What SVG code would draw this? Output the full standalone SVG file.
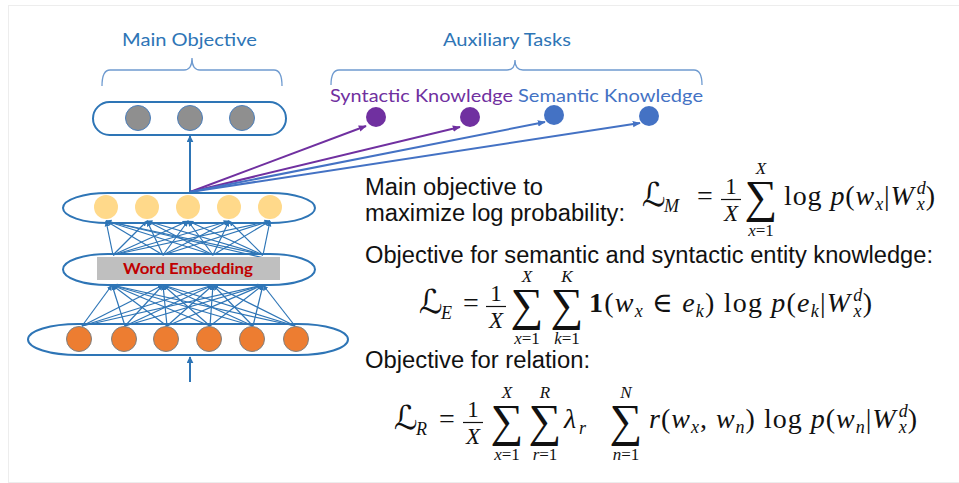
<svg xmlns="http://www.w3.org/2000/svg" width="959" height="483" viewBox="0 0 959 483">
<style>
.lbl{font-family:Lato,"Open Sans","Liberation Sans",sans-serif;font-size:18px}
.blue{fill:#2e75b6}
.txt{font-family:"Liberation Sans",Arial,sans-serif;font-size:23px;fill:#111}
.m{font-family:"Liberation Serif","DejaVu Serif",serif;font-size:28px;fill:#111}
.i{font-style:italic}
.s{font-size:18px}
.lim{font-family:"Liberation Serif","DejaVu Serif",serif;font-size:17px;fill:#111;text-anchor:middle}
.sum{font-family:"Liberation Serif","DejaVu Serif",serif;font-size:46px;fill:#111;text-anchor:middle}
.cal{font-family:"DejaVu Serif","DejaVu Sans",serif;font-size:33px;fill:#111}
.fr{font-family:"Liberation Serif",serif;font-size:23px;fill:#111;text-anchor:middle}
.cap{fill:none;stroke:#2e75b6;stroke-width:2}
.brace{fill:none;stroke:#6f9bd0;stroke-width:1.3}
.net line{stroke:#2e75b6;stroke-width:1.2}
</style>
<defs>
<marker id="ab" viewBox="0 0 10 10" refX="9" refY="5" markerWidth="5" markerHeight="5" orient="auto"><path d="M0,1 L10,5 L0,9 z" fill="#2e75b6"/></marker>
<marker id="ap" viewBox="0 0 10 10" refX="9" refY="5" markerWidth="4" markerHeight="4" orient="auto"><path d="M0,1 L10,5 L0,9 z" fill="#7030a0"/></marker>
<marker id="al" viewBox="0 0 10 10" refX="9" refY="5" markerWidth="4" markerHeight="4" orient="auto"><path d="M0,1 L10,5 L0,9 z" fill="#4472c4"/></marker>
<marker id="av" viewBox="0 0 10 10" refX="9" refY="5" markerWidth="3.5" markerHeight="3.5" orient="auto"><path d="M0,0 L10,5 L0,10 z" fill="#2e75b6"/></marker>
</defs>
<rect x="8.5" y="5.5" width="960" height="477" fill="none" stroke="#ededed"/>

<g id="labels">
<text class="lbl blue" x="122" y="46" textLength="135" lengthAdjust="spacingAndGlyphs">Main Objective</text>
<path class="brace" d="M102,86 Q102,70 110,70 L184,70 Q192,70 192,58 Q192,70 200,70 L274,70 Q282,70 282,86"/>
<text class="lbl blue" x="443" y="46" textLength="128" lengthAdjust="spacingAndGlyphs">Auxiliary Tasks</text>
<path class="brace" d="M331,85 Q331,70 339,70 L507,70 Q515,70 515,60 Q515,70 523,70 L694,70 Q702,70 702,85"/>
<text class="lbl" x="330" y="102" fill="#7030a0" font-size="19" textLength="183" lengthAdjust="spacingAndGlyphs">Syntactic Knowledge</text>
<text class="lbl" x="518" y="102" fill="#4472c4" font-size="19" textLength="185" lengthAdjust="spacingAndGlyphs">Semantic Knowledge</text>
</g>

<g id="connectors">
<g class="net">
<line x1="82" y1="326" x2="112" y2="285" marker-end="url(#ab)"/>
<line x1="82" y1="326" x2="163" y2="285" marker-end="url(#ab)"/>
<line x1="82" y1="326" x2="213" y2="285" marker-end="url(#ab)"/>
<line x1="82" y1="326" x2="263" y2="285" marker-end="url(#ab)"/>
<line x1="125" y1="326" x2="112" y2="285" marker-end="url(#ab)"/>
<line x1="125" y1="326" x2="163" y2="285" marker-end="url(#ab)"/>
<line x1="125" y1="326" x2="213" y2="285" marker-end="url(#ab)"/>
<line x1="125" y1="326" x2="263" y2="285" marker-end="url(#ab)"/>
<line x1="167" y1="326" x2="112" y2="285" marker-end="url(#ab)"/>
<line x1="167" y1="326" x2="163" y2="285" marker-end="url(#ab)"/>
<line x1="167" y1="326" x2="213" y2="285" marker-end="url(#ab)"/>
<line x1="167" y1="326" x2="263" y2="285" marker-end="url(#ab)"/>
<line x1="210" y1="326" x2="112" y2="285" marker-end="url(#ab)"/>
<line x1="210" y1="326" x2="163" y2="285" marker-end="url(#ab)"/>
<line x1="210" y1="326" x2="213" y2="285" marker-end="url(#ab)"/>
<line x1="210" y1="326" x2="263" y2="285" marker-end="url(#ab)"/>
<line x1="253" y1="326" x2="112" y2="285" marker-end="url(#ab)"/>
<line x1="253" y1="326" x2="163" y2="285" marker-end="url(#ab)"/>
<line x1="253" y1="326" x2="213" y2="285" marker-end="url(#ab)"/>
<line x1="253" y1="326" x2="263" y2="285" marker-end="url(#ab)"/>
<line x1="295" y1="326" x2="112" y2="285" marker-end="url(#ab)"/>
<line x1="295" y1="326" x2="163" y2="285" marker-end="url(#ab)"/>
<line x1="295" y1="326" x2="213" y2="285" marker-end="url(#ab)"/>
<line x1="295" y1="326" x2="263" y2="285" marker-end="url(#ab)"/>

<line x1="113" y1="255" x2="106" y2="221" marker-end="url(#ab)"/>
<line x1="113" y1="255" x2="147" y2="221" marker-end="url(#ab)"/>
<line x1="113" y1="255" x2="188" y2="221" marker-end="url(#ab)"/>
<line x1="113" y1="255" x2="229" y2="221" marker-end="url(#ab)"/>
<line x1="113" y1="255" x2="270" y2="221" marker-end="url(#ab)"/>
<line x1="163" y1="255" x2="106" y2="221" marker-end="url(#ab)"/>
<line x1="163" y1="255" x2="147" y2="221" marker-end="url(#ab)"/>
<line x1="163" y1="255" x2="188" y2="221" marker-end="url(#ab)"/>
<line x1="163" y1="255" x2="229" y2="221" marker-end="url(#ab)"/>
<line x1="163" y1="255" x2="270" y2="221" marker-end="url(#ab)"/>
<line x1="213" y1="255" x2="106" y2="221" marker-end="url(#ab)"/>
<line x1="213" y1="255" x2="147" y2="221" marker-end="url(#ab)"/>
<line x1="213" y1="255" x2="188" y2="221" marker-end="url(#ab)"/>
<line x1="213" y1="255" x2="229" y2="221" marker-end="url(#ab)"/>
<line x1="213" y1="255" x2="270" y2="221" marker-end="url(#ab)"/>
<line x1="263" y1="255" x2="106" y2="221" marker-end="url(#ab)"/>
<line x1="263" y1="255" x2="147" y2="221" marker-end="url(#ab)"/>
<line x1="263" y1="255" x2="188" y2="221" marker-end="url(#ab)"/>
<line x1="263" y1="255" x2="229" y2="221" marker-end="url(#ab)"/>
<line x1="263" y1="255" x2="270" y2="221" marker-end="url(#ab)"/>
<line x1="106" y1="221" x2="273" y2="260"/>
</g>
<line x1="190" y1="193" x2="190" y2="136" stroke="#2e75b6" stroke-width="2" marker-end="url(#av)"/>
<line x1="190" y1="382" x2="190" y2="357" stroke="#2e75b6" stroke-width="2" marker-end="url(#av)"/>
<line x1="190" y1="192" x2="366" y2="126" stroke="#7030a0" stroke-width="2" marker-end="url(#ap)"/>
<line x1="190" y1="192" x2="460" y2="127" stroke="#7030a0" stroke-width="2" marker-end="url(#ap)"/>
<line x1="190" y1="192" x2="545" y2="122" stroke="#4472c4" stroke-width="2" marker-end="url(#al)"/>
<line x1="190" y1="192" x2="640" y2="123" stroke="#4472c4" stroke-width="2" marker-end="url(#al)"/>
</g>

<g id="output-layer">
<rect class="cap" x="93" y="102" width="193" height="33" rx="16.5"/>
<circle cx="138" cy="118" r="12.5" fill="#8f8f8f" stroke="#4a7ebb"/>
<circle cx="190" cy="118" r="12.5" fill="#8f8f8f" stroke="#4a7ebb"/>
<circle cx="242" cy="118" r="12.5" fill="#8f8f8f" stroke="#4a7ebb"/>
</g>
<g id="hidden-layer">
<rect class="cap" x="63" y="193" width="252" height="30" rx="45" ry="15"/>
<circle cx="106" cy="207" r="12" fill="#ffd98a"/>
<circle cx="147" cy="207" r="12" fill="#ffd98a"/>
<circle cx="188" cy="207" r="12" fill="#ffd98a"/>
<circle cx="229" cy="207" r="12" fill="#ffd98a"/>
<circle cx="270" cy="207" r="12" fill="#ffd98a"/>
</g>
<g id="embedding-layer">
<rect class="cap" x="63" y="254" width="252" height="31" rx="45" ry="15.5"/>
<rect x="97" y="257" width="183" height="23" fill="#bfbfbf"/>
<text x="123" y="274" font-family="Lato,'Liberation Sans',sans-serif" font-size="15" font-weight="bold" fill="#c00000" textLength="130" lengthAdjust="spacingAndGlyphs">Word Embedding</text>
</g>
<g id="input-layer">
<rect class="cap" x="28" y="324" width="320" height="31" rx="50" ry="15.5"/>
<circle cx="79" cy="339" r="12.5" fill="#ed7d31" stroke="#7f7f7f"/>
<circle cx="124" cy="339" r="12.5" fill="#ed7d31" stroke="#7f7f7f"/>
<circle cx="166" cy="339" r="12.5" fill="#ed7d31" stroke="#7f7f7f"/>
<circle cx="209" cy="339" r="12.5" fill="#ed7d31" stroke="#7f7f7f"/>
<circle cx="252" cy="339" r="12.5" fill="#ed7d31" stroke="#7f7f7f"/>
<circle cx="296" cy="339" r="12.5" fill="#ed7d31" stroke="#7f7f7f"/>
</g>
<g id="aux-nodes">
<circle cx="376" cy="117" r="10" fill="#7030a0"/>
<circle cx="470" cy="117" r="10" fill="#7030a0"/>
<circle cx="554" cy="115" r="10" fill="#4472c4"/>
<circle cx="649" cy="116" r="10" fill="#4472c4"/>
</g>

<g id="objectives">
<text class="txt" x="365" y="195" textLength="178" lengthAdjust="spacingAndGlyphs">Main objective to</text>
<text class="txt" x="365" y="221" textLength="260" lengthAdjust="spacingAndGlyphs">maximize log probability:</text>
<text class="txt" x="365" y="263" textLength="568" lengthAdjust="spacingAndGlyphs">Objective for semantic and syntactic entity knowledge:</text>
<text class="txt" x="365" y="368" textLength="225" lengthAdjust="spacingAndGlyphs">Objective for relation:</text>

<!-- L_M -->
<text class="cal" x="642" y="206">ℒ</text>
<text class="m i s" x="664" y="212">M</text>
<text class="m" x="697" y="205">=</text>
<text class="fr" x="731" y="194">1</text>
<line x1="721" y1="199.5" x2="741" y2="199.5" stroke="#111" stroke-width="1.2"/>
<text class="fr i" x="731" y="221">X</text>
<text class="sum" x="761" y="212">∑</text>
<text class="lim i" x="761" y="174">X</text>
<text class="lim" x="761" y="236"><tspan class="i">x</tspan>=1</text>
<text class="m" x="784" y="205" textLength="151" lengthAdjust="spacing">log <tspan class="i">p</tspan>(<tspan class="i">w</tspan><tspan class="i s" dy="5">x</tspan><tspan dy="-5">|</tspan><tspan class="i">W</tspan><tspan class="i s" dx="2" dy="-11">d</tspan><tspan class="i s" dx="-10" dy="16">x</tspan><tspan dy="-5">)</tspan></text>

<!-- L_E -->
<text class="cal" x="419" y="313">ℒ</text>
<text class="m i s" x="441" y="319">E</text>
<text class="m" x="463" y="312">=</text>
<text class="fr" x="496" y="301">1</text>
<line x1="486" y1="306.5" x2="506" y2="306.5" stroke="#111" stroke-width="1.2"/>
<text class="fr i" x="496" y="328">X</text>
<text class="sum" x="527" y="320">∑</text>
<text class="sum" x="567" y="320">∑</text>
<text class="lim i" x="527" y="282">X</text>
<text class="lim i" x="567" y="282">K</text>
<text class="lim" x="527" y="344"><tspan class="i">x</tspan>=1</text>
<text class="lim" x="567" y="344"><tspan class="i">k</tspan>=1</text>
<text class="m" x="589" y="312" textLength="283" lengthAdjust="spacing"><tspan font-weight="bold">1</tspan>(<tspan class="i">w</tspan><tspan class="i s" dy="5">x</tspan><tspan dy="-5"> ∈ </tspan><tspan class="i">e</tspan><tspan class="i s" dy="5">k</tspan><tspan dy="-5">) log </tspan><tspan class="i">p</tspan>(<tspan class="i">e</tspan><tspan class="i s" dy="5">k</tspan><tspan dy="-5">|</tspan><tspan class="i">W</tspan><tspan class="i s" dx="2" dy="-11">d</tspan><tspan class="i s" dx="-10" dy="16">x</tspan><tspan dy="-5">)</tspan></text>

<!-- L_R -->
<text class="cal" x="394" y="429">ℒ</text>
<text class="m i s" x="416" y="435">R</text>
<text class="m" x="439" y="428">=</text>
<text class="fr" x="473" y="417">1</text>
<line x1="463" y1="422.5" x2="483" y2="422.5" stroke="#111" stroke-width="1.2"/>
<text class="fr i" x="473" y="444">X</text>
<text class="sum" x="507" y="436">∑</text>
<text class="sum" x="545" y="436">∑</text>
<text class="m i" x="564" y="428">λ</text>
<text class="m i s" x="579" y="434">r</text>
<text class="sum" x="626" y="436">∑</text>
<text class="lim i" x="507" y="398">X</text>
<text class="lim i" x="545" y="398">R</text>
<text class="lim i" x="626" y="398">N</text>
<text class="lim" x="507" y="460"><tspan class="i">x</tspan>=1</text>
<text class="lim" x="545" y="460"><tspan class="i">r</tspan>=1</text>
<text class="lim" x="626" y="460"><tspan class="i">n</tspan>=1</text>
<text class="m" x="649" y="428" textLength="268" lengthAdjust="spacing"><tspan class="i">r</tspan>(<tspan class="i">w</tspan><tspan class="i s" dy="5">x</tspan><tspan dy="-5">, </tspan><tspan class="i">w</tspan><tspan class="i s" dy="5">n</tspan><tspan dy="-5">) log </tspan><tspan class="i">p</tspan>(<tspan class="i">w</tspan><tspan class="i s" dy="5">n</tspan><tspan dy="-5">|</tspan><tspan class="i">W</tspan><tspan class="i s" dx="2" dy="-11">d</tspan><tspan class="i s" dx="-10" dy="16">x</tspan><tspan dy="-5">)</tspan></text>
</g>
</svg>
